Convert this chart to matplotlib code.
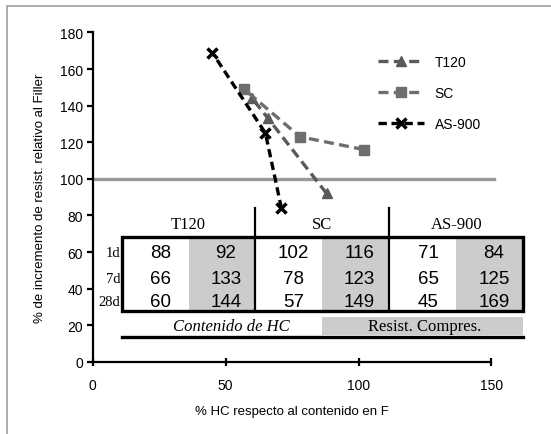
import numpy as np
import matplotlib.pyplot as plt
from matplotlib.patches import Rectangle
from matplotlib.lines import Line2D

plt.rcParams['font.family'] = ['Liberation Sans', 'DejaVu Sans']

# datos: contenido de HC (%) y resistencia relativa (%) a 1d, 7d, 28d
ages = ['1d', '7d', '28d']
series = ['T120', 'SC', 'AS-900']
hc_t120 = [88, 66, 60]
res_t120 = [92, 133, 144]
hc_sc = [102, 78, 57]
res_sc = [116, 123, 149]
hc_as = [71, 65, 45]
res_as = [84, 125, 169]

fig = plt.figure(figsize=(5.51, 4.35), dpi=100)
# marco gris exterior
fig.patches.append(Rectangle((7 / 551, -0.1), 1.2, 1 - 7 / 435 + 0.1, transform=fig.transFigure,
                             fill=False, edgecolor='#a0a0a0', linewidth=1.2, zorder=0))

ax = fig.add_axes([0.168, 0.166, 0.724, 0.757])

ax.plot([0, 151], [100, 100], color='#999999', lw=2.4, zorder=1, clip_on=False)

ax.plot(hc_t120, res_t120, color='#5a5a5a', lw=2.4, ls=(0, (3, 1.6)), marker='^', ms=7,
        label='T120', zorder=3)
ax.plot(hc_sc, res_sc, color='#6e6e6e', lw=2.4, ls=(0, (3, 1.6)), marker='s', ms=6.5,
        label='SC', zorder=3)
ax.plot(hc_as, res_as, color='black', lw=2.4, ls=(0, (2.5, 1.4)), marker='x', ms=7, mew=2.5,
        label='AS-900', zorder=4)

ax.set_xlim(0, 150)
ax.set_ylim(0, 180)
ax.set_xticks([0, 50, 100, 150])
ax.set_yticks(range(0, 181, 20))
for s in ['top', 'right']:
    ax.spines[s].set_visible(False)
for s in ['left', 'bottom']:
    ax.spines[s].set_linewidth(1.6)
ax.tick_params(axis='y', direction='out', length=4, width=1.6, labelsize=10, pad=3)
ax.tick_params(axis='x', direction='inout', length=6, width=1.6, labelsize=10, pad=9)
ax.set_xlabel('% HC respecto al contenido en F', fontsize=9.5, labelpad=9)
ax.set_ylabel('% de incremento de resist. relativo al Filler', fontsize=9.5, labelpad=10)

ax.legend(loc='upper left', bbox_to_anchor=(0.715, 0.933), frameon=False, fontsize=10,
          handlelength=3.3, handletextpad=0.8, labelspacing=1.25, borderaxespad=0, borderpad=0)

# tabla dentro del grafico (coordenadas de datos)
x0, x1 = 11, 162
y0, y1 = 28, 68
groups = [(11, 36.3, 61), (61, 86.2, 111.5), (111.5, 136.8, 162)]
hc_vals = [hc_t120, hc_sc, hc_as]
res_vals = [res_t120, res_sc, res_as]
row_y = [59.6, 45.3, 32.7]
kw = dict(clip_on=False, zorder=5)

for (ga, gm, gb), name, hv, rv in zip(groups, series, hc_vals, res_vals):
    ax.add_patch(Rectangle((gm, y0), gb - gm, y1 - y0, facecolor='#cccccc', edgecolor='none', **kw))
    ax.text((ga + gb) / 2, 75.5, name, ha='center', va='center', fontsize=12,
            family='Liberation Serif', **kw)
    for yy, h, r in zip(row_y, hv, rv):
        ax.text((ga + gm) / 2 + 2, yy, str(h), ha='center', va='center', fontsize=13.5, **kw)
        ax.text((gm + gb) / 2 + 1.5, yy, str(r), ha='center', va='center', fontsize=13.5, **kw)

ax.add_patch(Rectangle((x0, y0), x1 - x0, y1 - y0, fill=False, edgecolor='black', lw=2.4, **kw))
for xs in [61, 111.5]:
    ax.add_line(Line2D([xs, xs], [y0, 84], color='black', lw=1.6, **kw))
for yy, lab in zip(row_y, ages):
    ax.text(10.5, yy, lab, ha='right', va='center', fontsize=10.5, family='Liberation Serif', **kw)

ax.add_patch(Rectangle((86.3, 14.6), x1 - 86.3, 10.1, facecolor='#cccccc', edgecolor='none', **kw))
ax.text(52.3, 19.6, 'Contenido de HC', ha='center', va='center', fontsize=12, style='italic',
        family='Liberation Serif', **kw)
ax.text(125, 19.6, 'Resist. Compres.', ha='center', va='center', fontsize=12,
        family='Liberation Serif', **kw)
ax.add_line(Line2D([x0, x1], [13.7, 13.7], color='black', lw=2.4, **kw))

fig.savefig('out.png', dpi=100)
